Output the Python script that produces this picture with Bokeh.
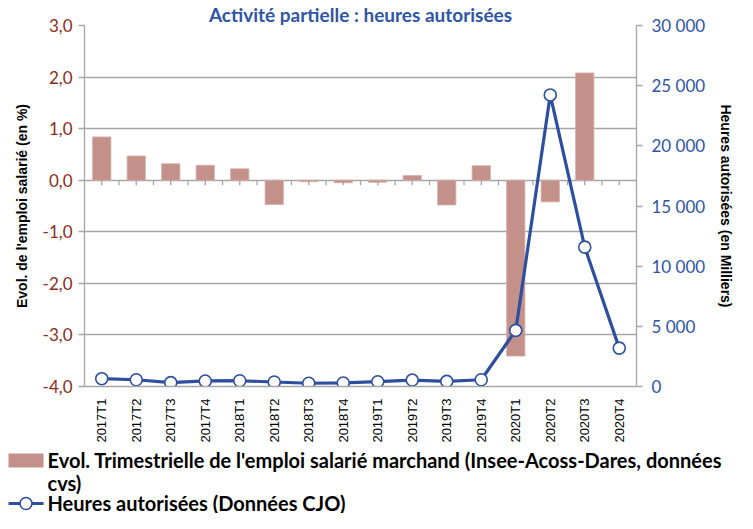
from bokeh.plotting import figure
from bokeh.models import Range1d, LinearAxis, FixedTicker, ColumnDataSource
from bokeh.layouts import column
from bokeh.embed import file_html
from bokeh.resources import INLINE
from bokeh.core.properties import value
import numpy as np

quarters = ["2017T1", "2017T2", "2017T3", "2017T4", "2018T1", "2018T2", "2018T3", "2018T4",
            "2019T1", "2019T2", "2019T3", "2019T4", "2020T1", "2020T2", "2020T3", "2020T4"]
emploi = [0.84, 0.47, 0.32, 0.29, 0.22, -0.47, -0.03, -0.05,
          -0.04, 0.09, -0.48, 0.28, -3.41, -0.42, 2.08, float("nan")]
heures = [650, 560, 320, 460, 480, 375, 270, 295,
          400, 535, 430, 560, 4660, 24230, 11580, 3190]
left_ticks = [-4, -3, -2, -1, 0, 1, 2, 3]
left_labels = ["-4,0", "-3,0", "-2,0", "-1,0", "0,0", "1,0", "2,0", "3,0"]
right_ticks = [0, 5000, 10000, 15000, 20000, 25000, 30000]
right_labels = ["0", "5 000", "10 000", "15 000", "20 000", "25 000", "30 000"]

title_text = "Activité partielle : heures autorisées"
left_title = "Evol. de l'emploi salarié (en %)"
right_title = "Heures autorisées (en Milliers)"
bar_name_1 = "Evol. Trimestrielle de l'emploi salarié marchand (Insee-Acoss-Dares, données"
bar_name_2 = "cvs)"
line_name = "Heures autorisées (Données CJO)"

BAR = "#C3918A"
BLUE = "#2D4F9E"
TBLUE = "#2F55A4"
RED = "#8B2D1B"
GRID = "#A6A6A6"

W = 737
MH = 445
n = len(quarters)
xc = np.arange(n) + 0.5
src = ColumnDataSource(dict(x=xc, emploi=emploi, heures=heures))

p = figure(width=W, height=MH, output_backend="svg", toolbar_location=None,
           x_range=Range1d(0, n), y_range=Range1d(-4, 3),
           min_border_left=84, min_border_right=W - 636, min_border_top=22,
           min_border_bottom=58)
p.frame_align = False
p.outline_line_color = None
p.background_fill_color = "white"
p.border_fill_color = "white"

# title
p.title.text = title_text
p.title.align = "center"
p.title.offset = 26
p.title.text_font = "Lato"
p.title.text_font_style = "bold"
p.title.text_font_size = "19px"
p.title.text_color = TBLUE
p.title.standoff = 0

# grid
p.xgrid.visible = False
p.ygrid.ticker = FixedTicker(ticks=left_ticks)
p.ygrid.grid_line_color = GRID
p.ygrid.grid_line_width = 1.3

# left axis
ya = p.yaxis[0]
ya.ticker = FixedTicker(ticks=left_ticks)
ya.major_label_overrides = {t: l for t, l in zip(left_ticks, left_labels)}
ya.major_label_text_color = RED
ya.major_label_text_font = "Lato"
ya.major_label_text_font_size = "17px"
ya.axis_line_color = GRID
ya.axis_line_width = 1.3
ya.major_tick_line_color = GRID
ya.major_tick_line_width = 1.3
ya.major_tick_in = 0
ya.major_tick_out = 6
ya.minor_tick_line_color = None
ya.major_label_standoff = 6
ya.axis_label = left_title
ya.axis_label_text_font = "Liberation Sans"
ya.axis_label_text_font_style = "bold"
ya.axis_label_text_font_size = "14px"
ya.axis_label_text_color = "black"
ya.axis_label_standoff = 10

# right axis
p.extra_y_ranges = {"h": Range1d(0, 30000)}
ra = LinearAxis(y_range_name="h")
ra.ticker = FixedTicker(ticks=right_ticks)
ra.major_label_overrides = {t: l for t, l in zip(right_ticks, right_labels)}
ra.major_label_text_color = TBLUE
ra.major_label_text_font = "Lato"
ra.major_label_text_font_size = "17px"
ra.axis_line_color = GRID
ra.axis_line_width = 1.3
ra.major_tick_line_color = GRID
ra.major_tick_line_width = 1.3
ra.major_tick_in = 0
ra.major_tick_out = 6
ra.minor_tick_line_color = None
ra.major_label_standoff = 9
ra.axis_label = right_title
ra.axis_label_text_font = "Liberation Sans"
ra.axis_label_text_font_style = "bold"
ra.axis_label_text_font_size = "14px"
ra.axis_label_text_color = "black"
ra.axis_label_standoff = 10
p.add_layout(ra, "right")

# bottom axis (labels only)
xa = p.xaxis[0]
xa.ticker = FixedTicker(ticks=list(xc))
xa.major_label_overrides = {float(x): q for x, q in zip(xc, quarters)}
xa.major_label_orientation = np.pi / 2
xa.major_label_text_font = "Liberation Sans"
xa.major_label_text_font_size = "13px"
xa.major_label_text_color = "black"
xa.axis_line_color = GRID
xa.axis_line_width = 1.3
xa.major_tick_line_color = None
xa.minor_tick_line_color = None
xa.major_label_standoff = 6

# bars
bars = p.vbar(x="x", top="emploi", bottom=0, width=0.53, source=src,
              fill_color=BAR, line_color="#D6AFA9", line_width=0.8)

# category ticks on zero line
half = np.arange(1, 2 * n + 1) * 0.5
p.segment(x0=half, y0=np.zeros_like(half), x1=half, y1=np.full_like(half, -0.1),
          line_color=GRID, line_width=1.3)

# line
ln = p.line("x", "heures", source=src, y_range_name="h", line_color=BLUE, line_width=3.2)
pts = p.scatter("x", "heures", source=src, y_range_name="h", size=12, marker="circle",
                fill_color="white", line_color=BLUE, line_width=1.6)

# legend strip (pixel coordinates, y downward)
LH = 68
lf = figure(width=W, height=LH, output_backend="svg", toolbar_location=None,
            x_range=Range1d(0, W), y_range=Range1d(LH, 0),
            x_axis_location=None, y_axis_location=None, min_border=0)
lf.frame_align = False
lf.outline_line_color = None
lf.grid.visible = False
lf.quad(left=[8], right=[43], top=[8], bottom=[22], fill_color=BAR, line_color=None)
lf.line(x=[8, 43], y=[58, 58], line_color=BLUE, line_width=3.2)
lf.scatter(x=[25.5], y=[58], size=12, marker="circle", fill_color="white",
           line_color=BLUE, line_width=1.6)
lf.text(x=[47, 47, 47], y=[14, 37, 57], text=[bar_name_1, bar_name_2, line_name],
        text_font=value("Lato"), text_font_style="bold", text_font_size="20px",
        text_color="black", text_baseline="middle", text_align="left")

layout = column(p, lf, spacing=0)
open("out.html", "w").write(file_html(layout, INLINE))
